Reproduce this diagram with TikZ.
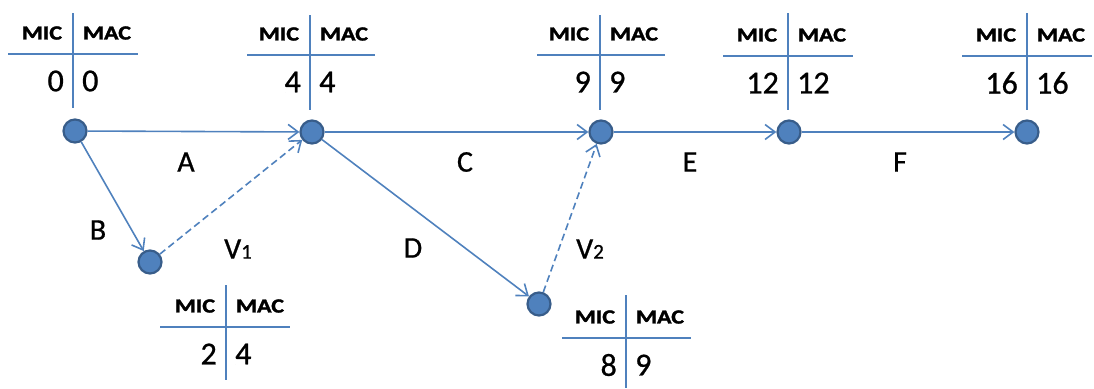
\documentclass[tikz,border=0pt]{standalone}
\usepackage{fontspec}
\setmainfont{Carlito}[FakeBold=0.8]
\newfontfamily\hdrfont{Carlito Bold}[FakeBold=1.8,FakeStretch=1.2]
\usetikzlibrary{arrows.meta}
\definecolor{lineblue}{HTML}{4F81BD}
\definecolor{darkblue}{HTML}{385D8A}
\begin{document}
\begin{tikzpicture}[x=1pt,y=-1pt,
  ev/.style={circle,fill=lineblue,draw=darkblue,line width=2.2pt,minimum size=23pt,inner sep=0pt},
  act/.style={draw=lineblue,line width=1.6pt,-{Straight Barb[length=10pt,width=15pt,line width=1.6pt]}},
  dum/.style={act,dash pattern=on 7pt off 4pt},
  hdr/.style={font=\fontsize{20}{20}\hdrfont,inner sep=0pt},
  num/.style={font=\fontsize{32}{32}\selectfont,inner sep=0pt},
  lab/.style={font=\fontsize{30}{30}\selectfont,inner sep=0pt},
  tline/.style={draw=lineblue,line width=1.5pt}
]
\useasboundingbox (0,0) rectangle (1094,388);
\newcommand{\tbl}[8]{%
  \draw[tline] (#1,#2) -- (#1,#3);
  \draw[tline] (#5,#4) -- (#6,#4);
  \node[hdr] at (#1-31,#4-21) {MIC};
  \node[hdr] at (#1+34,#4-21) {MAC};
  \node[num,anchor=east] at (#1-9,#4+27) {#7};
  \node[num,anchor=west] at (#1+9,#4+27) {#8};
}
\tbl{73}{13}{108}{54}{8}{138}{0}{0}
\tbl{310}{15}{110}{55}{247}{375}{4}{4}
\tbl{600}{15}{110}{55}{537}{665}{9}{9}
\tbl{788}{13}{110}{56}{723}{853}{12}{12}
\tbl{1027}{13}{110}{56}{962}{1092}{16}{16}
\tbl{226}{285}{380}{327}{160}{290}{2}{4}
\tbl{626}{295}{388}{338}{562}{691}{8}{9}

\node[ev] (n1) at (75,131) {};
\node[ev] (n2) at (312,132) {};
\node[ev] (n3) at (601,132) {};
\node[ev] (n4) at (789,132) {};
\node[ev] (n5) at (1027,132) {};
\node[ev] (n6) at (150,262) {};
\node[ev] (n7) at (539,304) {};

\draw[act] (n1) -- (n2);
\draw[act] (n1) -- (n6);
\draw[dum] (n6) -- (n2);
\draw[act] (n2) -- (n3);
\draw[act] (n2) -- (n7);
\draw[dum] (n7) -- (n3);
\draw[act] (n3) -- (n4);
\draw[act] (n4) -- (n5);

\node[lab] (lA) at (186,162) {A};
\node[lab] (lC) at (465,162) {C};
\node[lab] (lE) at (690,162) {E};
\node[lab] (lF) at (900,162) {F};
\node[lab] (lB) at (98,230) {B};
\node[lab] (lV1) at (238,249) {V\fontsize{21}{21}\selectfont 1};
\node[lab] (lD) at (413,248) {D};
\node[lab] (lV2) at (590,249) {V\fontsize{21}{21}\selectfont 2};
\end{tikzpicture}
\end{document}
